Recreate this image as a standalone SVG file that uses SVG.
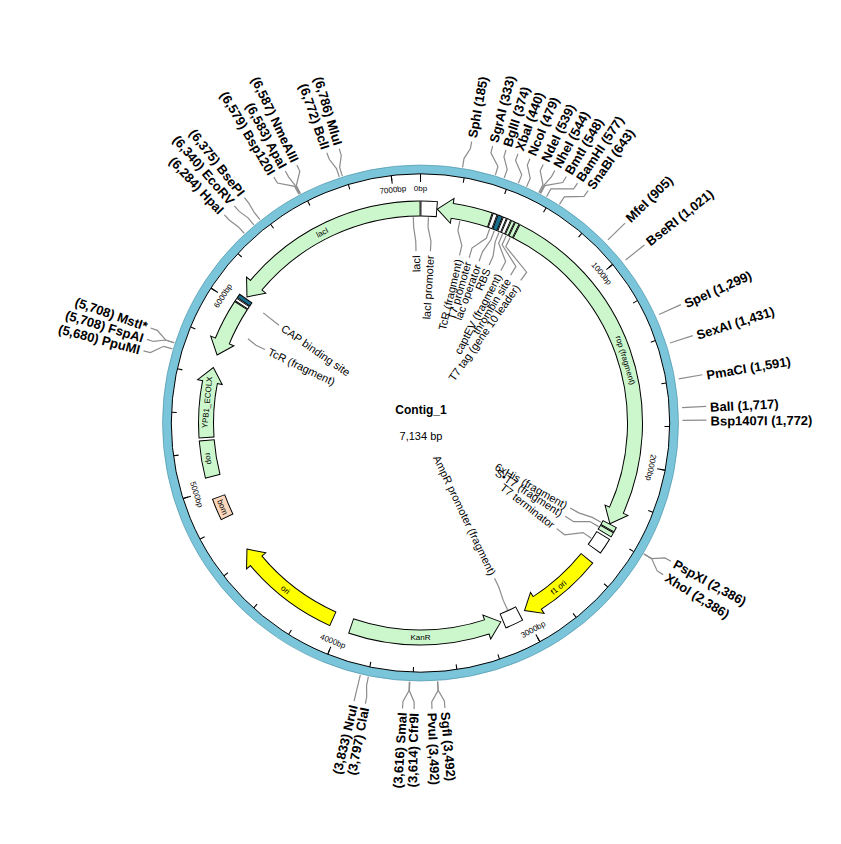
<svg xmlns="http://www.w3.org/2000/svg" xmlns:xlink="http://www.w3.org/1999/xlink" width="841" height="844" viewBox="0 0 841 844">
<style>
.o{fill:none;stroke:#000;stroke-width:16}
.f{fill:none;stroke-width:14}
.g{stroke:#ccf7cc}
.w{stroke:#fff}
.y{stroke:#ffff00}
.t{stroke:#1b6f8e}
.ld{fill:none;stroke:#8c8c8c;stroke-width:1.2}
.s{font-family:"Liberation Sans",Arial,sans-serif;font-size:13px;font-weight:bold;fill:#000}
.i{font-family:"Liberation Sans",Arial,sans-serif;font-size:11px;fill:#000}
.fl{font-family:"Liberation Sans",Arial,sans-serif;font-size:8px;fill:#000;text-anchor:middle}
.tk{font-family:"Liberation Sans",Arial,sans-serif;font-size:8px;fill:#000;text-anchor:middle}
</style>
<defs>
<polygon id="hd" points="0,-214.5 -14.1,-201.5 -15.8,-226.5" stroke="#000" stroke-width="1" stroke-linejoin="miter"/>
</defs>
<rect width="841" height="844" fill="#fff"/>
<g transform="translate(420.5,423)">
<g id="ring">
<circle r="253.5" fill="none" stroke="#7ac5da" stroke-width="9"/>
<circle r="249.2" fill="none" stroke="#000" stroke-width="1"/>
<circle r="258" fill="none" stroke="#4a8fa3" stroke-width="0.6"/>
<circle r="246.5" fill="none" stroke="#000" stroke-width="5" pathLength="360" stroke-dasharray="0.25 9.8425" transform="rotate(-90.12)"/>
<circle r="245" fill="none" stroke="#000" stroke-width="8" pathLength="360" stroke-dasharray="0.25 50.2126" transform="rotate(-90.12)"/>
<text class="tk" transform="rotate(0) translate(0,-235)" dy="0.35em">0bp</text>
<text class="tk" transform="rotate(50.46) translate(0,-235)" dy="0.35em">1000bp</text>
<text class="tk" transform="rotate(100.93) translate(0,-235)" dy="0.35em">2000bp</text>
<text class="tk" transform="rotate(151.39) translate(0,-235) rotate(180)" dy="0.35em">3000bp</text>
<text class="tk" transform="rotate(201.85) translate(0,-235) rotate(180)" dy="0.35em">4000bp</text>
<text class="tk" transform="rotate(252.31) translate(0,-235) rotate(180)" dy="0.35em">5000bp</text>
<text class="tk" transform="rotate(302.78) translate(0,-235)" dy="0.35em">6000bp</text>
<text class="tk" transform="rotate(353.24) translate(0,-235)" dy="0.35em">7000bp</text>
</g>

<g id="lacI-promoter"><circle r="214.5" class="o" pathLength="360" stroke-dasharray="4.5 360" transform="rotate(-90)"/><circle r="214.5" class="f w" pathLength="360" stroke-dasharray="4 360" transform="rotate(-89.75)"/></g>
<g id="TcR-top"><circle r="214.5" class="o" pathLength="360" stroke-dasharray="10.5 360" transform="rotate(-81.5)"/><use href="#hd" fill="#ccf7cc" transform="rotate(4.5) scale(-1 1)"/><circle r="214.5" class="f g" pathLength="360" stroke-dasharray="10.95 360" transform="rotate(-82.2)"/></g>
<g id="T7-promoter"><circle r="214.5" class="o" pathLength="360" stroke-dasharray="1.3 360" transform="rotate(-71)"/><circle r="214.5" class="f w" pathLength="360" stroke-dasharray="0.8 360" transform="rotate(-70.75)"/></g>
<g id="lac-operator"><circle r="214.5" class="o" pathLength="360" stroke-dasharray="1.5 360" transform="rotate(-69.7)"/><circle r="214.5" class="f t" pathLength="360" stroke-dasharray="1 360" transform="rotate(-69.45)"/></g>
<g id="RBS"><circle r="214.5" class="o" pathLength="360" stroke-dasharray="1.1 360" transform="rotate(-68.2)"/><circle r="214.5" class="f w" pathLength="360" stroke-dasharray="0.6 360" transform="rotate(-67.95)"/></g>
<g id="captEV"><circle r="214.5" class="o" pathLength="360" stroke-dasharray="1.2 360" transform="rotate(-67.1)"/><circle r="214.5" class="f w" pathLength="360" stroke-dasharray="0.7 360" transform="rotate(-66.85)"/></g>
<g id="thrombin"><circle r="214.5" class="o" pathLength="360" stroke-dasharray="1.1 360" transform="rotate(-65.9)"/><circle r="214.5" class="f g" pathLength="360" stroke-dasharray="0.6 360" transform="rotate(-65.65)"/></g>
<g id="T7-tag"><circle r="214.5" class="o" pathLength="360" stroke-dasharray="1.3 360" transform="rotate(-64.8)"/><circle r="214.5" class="f g" pathLength="360" stroke-dasharray="0.8 360" transform="rotate(-64.55)"/></g>
<g id="rop-fragment"><circle r="214.5" class="o" pathLength="360" stroke-dasharray="87.5 360" transform="rotate(-63.5)"/><use href="#hd" fill="#ccf7cc" transform="rotate(118)"/><circle r="214.5" class="f g" pathLength="360" stroke-dasharray="87.95 360" transform="rotate(-63.25)"/><text class="fl" transform="rotate(73) translate(0,-214.5)" dy="0.35em">rop (fragment)</text></g>
<g id="6xHis"><circle r="214.5" class="o" pathLength="360" stroke-dasharray="1.5 360" transform="rotate(28)"/><circle r="214.5" class="f g" pathLength="360" stroke-dasharray="1 360" transform="rotate(28.25)"/></g>
<g id="ST7"><circle r="214.5" class="o" pathLength="360" stroke-dasharray="1.5 360" transform="rotate(29.5)"/><circle r="214.5" class="f g" pathLength="360" stroke-dasharray="1 360" transform="rotate(29.75)"/></g>
<g id="T7-terminator"><circle r="214.5" class="o" pathLength="360" stroke-dasharray="4.5 360" transform="rotate(31.5)"/><circle r="214.5" class="f w" pathLength="360" stroke-dasharray="4 360" transform="rotate(31.75)"/></g>
<g id="f1-ori"><circle r="214.5" class="o" pathLength="360" stroke-dasharray="18 360" transform="rotate(39)"/><use href="#hd" fill="#ffff00" transform="rotate(151)"/><circle r="214.5" class="f y" pathLength="360" stroke-dasharray="18.45 360" transform="rotate(39.25)"/><text class="fl" transform="rotate(140) translate(0,-214.5) rotate(180)" dy="0.35em">f1 ori</text></g>
<g id="AmpR-promoter"><circle r="214.5" class="o" pathLength="360" stroke-dasharray="5 360" transform="rotate(62.5)"/><circle r="214.5" class="f w" pathLength="360" stroke-dasharray="4.5 360" transform="rotate(62.75)"/></g>
<g id="KanR"><circle r="214.5" class="o" pathLength="360" stroke-dasharray="37 360" transform="rotate(72)"/><use href="#hd" fill="#ccf7cc" transform="rotate(158) scale(-1 1)"/><circle r="214.5" class="f g" pathLength="360" stroke-dasharray="37.45 360" transform="rotate(71.3)"/><text class="fl" transform="rotate(180) translate(0,-214.5) rotate(180)" dy="0.35em">KanR</text></g>
<g id="ori"><circle r="214.5" class="o" pathLength="360" stroke-dasharray="26 360" transform="rotate(114)"/><use href="#hd" fill="#ffff00" transform="rotate(234)"/><circle r="214.5" class="f y" pathLength="360" stroke-dasharray="26.45 360" transform="rotate(114.25)"/><text class="fl" transform="rotate(219) translate(0,-214.5) rotate(180)" dy="0.35em">ori</text></g>
<g id="bom"><circle r="215" fill="none" stroke="#000" stroke-width="14" pathLength="360" stroke-dasharray="6 360" transform="rotate(154)"/><circle r="215" fill="none" stroke="#fbd8bd" stroke-width="12" pathLength="360" stroke-dasharray="5.5 360" transform="rotate(154.25)"/><text class="fl" transform="rotate(247) translate(0,-215) rotate(180)" dy="0.35em">bom</text></g>
<g id="rop"><circle r="214.5" class="o" pathLength="360" stroke-dasharray="10 360" transform="rotate(165.5)"/><circle r="214.5" class="f g" pathLength="360" stroke-dasharray="9.5 360" transform="rotate(165.75)"/><text class="fl" transform="rotate(260.5) translate(0,-214.5) rotate(180)" dy="0.35em">rop</text></g>
<g id="YPB1"><circle r="214.5" class="o" pathLength="360" stroke-dasharray="15 360" transform="rotate(176)"/><use href="#hd" fill="#ccf7cc" transform="rotate(285)"/><circle r="214.5" class="f g" pathLength="360" stroke-dasharray="15.45 360" transform="rotate(176.25)"/><text class="fl" transform="rotate(275.5) translate(0,-214.5)" dy="0.35em">YPB1_ECOLX</text></g>
<g id="TcR-left"><circle r="214.5" class="o" pathLength="360" stroke-dasharray="10.8 360" transform="rotate(202.5)"/><use href="#hd" fill="#ccf7cc" transform="rotate(288.5) scale(-1 1)"/><circle r="214.5" class="f g" pathLength="360" stroke-dasharray="11.25 360" transform="rotate(201.8)"/></g>
<g id="strip"><circle r="214.5" class="o" pathLength="360" stroke-dasharray="1 360" transform="rotate(213.3)"/><circle r="214.5" class="f w" pathLength="360" stroke-dasharray="0.5 360" transform="rotate(213.55)"/></g>
<g id="CAP"><circle r="214.5" class="o" pathLength="360" stroke-dasharray="1.3 360" transform="rotate(214.3)"/><circle r="214.5" class="f t" pathLength="360" stroke-dasharray="0.8 360" transform="rotate(214.55)"/></g>
<g id="lacI"><circle r="214.5" class="o" pathLength="360" stroke-dasharray="50 360" transform="rotate(220)"/><use href="#hd" fill="#ccf7cc" transform="rotate(306) scale(-1 1)"/><circle r="214.5" class="f g" pathLength="360" stroke-dasharray="50.45 360" transform="rotate(219.3)"/><text class="fl" transform="rotate(332.7) translate(0,-214.5)" dy="0.35em">lacI</text></g>

<g id="connectors">
<polyline class="ld" transform="rotate(-80.66)" points="259,0 268,0 279,4.7 286,4.8"/>
<polyline class="ld" transform="rotate(-73.2)" points="259,0 268,0 279,-10.7 286,-11"/>
<polyline class="ld" transform="rotate(-71.13)" points="259,0 268,0 279,-7.2 286,-7.4"/>
<polyline class="ld" transform="rotate(-67.8)" points="259,0 268,0 279,-11.2 286,-11.5"/>
<polyline class="ld" transform="rotate(-65.83)" points="259,0 268,0 279,-8.1 286,-8.4"/>
<polyline class="ld" transform="rotate(-62.8)" points="259,0 268,0 279,-8.8 286,-9"/>
<polyline class="ld" transform="rotate(-62.55)" points="259,0 268,0 279,2.7 286,2.8"/>
<polyline class="ld" transform="rotate(-62.35)" points="259,0 268,0 279,14.4 286,14.8"/>
<polyline class="ld" transform="rotate(-60.88)" points="259,0 268,0 279,19.9 286,20.4"/>
<polyline class="ld" transform="rotate(-57.55)" points="259,0 268,0 279,16.3 286,16.8"/>
<polyline class="ld" transform="rotate(-44.33)" points="262,0 286,0"/>
<polyline class="ld" transform="rotate(-38.48)" points="262,0 286,0"/>
<polyline class="ld" transform="rotate(-24.45)" points="262,0 286,0"/>
<polyline class="ld" transform="rotate(-17.79)" points="262,0 286,0"/>
<polyline class="ld" transform="rotate(-9.71)" points="262,0 286,0"/>
<polyline class="ld" transform="rotate(-3.35)" points="262,0 286,0"/>
<polyline class="ld" transform="rotate(-0.58)" points="262,0 286,0"/>
<polyline class="ld" transform="rotate(30.4)" points="259,0 268,0 279,-7.3 286,-7.5"/>
<polyline class="ld" transform="rotate(30.4)" points="259,0 268,0 279,7.8 286,8"/>
<polyline class="ld" transform="rotate(86.22)" points="259,0 268,0 279,-5.5 286,-5.6"/>
<polyline class="ld" transform="rotate(86.22)" points="259,0 268,0 279,7.2 286,7.4"/>
<polyline class="ld" transform="rotate(92.37)" points="259,0 268,0 279,-5.2 286,-5.4"/>
<polyline class="ld" transform="rotate(92.47)" points="259,0 268,0 279,5.5 286,5.7"/>
<polyline class="ld" transform="rotate(101.61)" points="259,0 268,0 279,-2.4 286,-2.5"/>
<polyline class="ld" transform="rotate(103.43)" points="259,0 286,0"/>
<polyline class="ld" transform="rotate(196.63)" points="259,0 268,0 279,-9.9 286,-10.2"/>
<polyline class="ld" transform="rotate(198.04)" points="259,0 268,0 279,-5.1 286,-5.2"/>
<polyline class="ld" transform="rotate(198.04)" points="259,0 268,0 279,6.6 286,6.8"/>
<polyline class="ld" transform="rotate(227.11)" points="259,0 268,0 279,-2 286,-2"/>
<polyline class="ld" transform="rotate(229.94)" points="259,0 268,0 279,-2.6 286,-2.7"/>
<polyline class="ld" transform="rotate(231.7)" points="259,0 268,0 279,1.5 286,1.5"/>
<polyline class="ld" transform="rotate(241.99)" points="259,0 268,0 279,-13.6 286,-14"/>
<polyline class="ld" transform="rotate(242.2)" points="259,0 268,0 279,-1.9 286,-2"/>
<polyline class="ld" transform="rotate(242.4)" points="259,0 268,0 279,9.7 286,10"/>
<polyline class="ld" transform="rotate(251.73)" points="259,0 268,0 279,-4 286,-4.2"/>
<polyline class="ld" transform="rotate(252.44)" points="259,0 268,0 279,5.2 286,5.3"/>
<!-- inner -->
<polyline class="ld" transform="rotate(-92)" points="206,0 196,0 182,1.6 172,1.5"/>
<polyline class="ld" transform="rotate(-87.8)" points="206,0 196,0 182,3.5 172,3.3"/>
<polyline class="ld" transform="rotate(-79)" points="206,0 196,0 182,6.7 172,6.3"/>
<polyline class="ld" transform="rotate(-70.4)" points="206,0 196,0 182,-10.2 172,-9.6"/>
<polyline class="ld" transform="rotate(-69)" points="206,0 196,0 182,-3.5 172,-3.3"/>
<polyline class="ld" transform="rotate(-67.6)" points="206,0 196,0 182,3.5 172,3.3"/>
<polyline class="ld" transform="rotate(-66.5)" points="206,0 196,0 182,13.7 172,12.9"/>
<polyline class="ld" transform="rotate(-65.4)" points="206,0 196,0 182,21.6 172,20.4"/>
<polyline class="ld" transform="rotate(-64.2)" points="206,0 196,0 182,29.9 172,28.2"/>
<polyline class="ld" transform="rotate(28.8)" points="206,0 196,0 182,2.5 172,2.4"/>
<polyline class="ld" transform="rotate(30.2)" points="206,0 196,0 182,8.3 172,7.8"/>
<polyline class="ld" transform="rotate(34)" points="206,0 196,0 182,12.1 172,11.4"/>
<polyline class="ld" transform="rotate(65)" points="206,0 196,0 182,-1.6 172,-1.5"/>
<polyline class="ld" transform="rotate(215)" points="192,0 172,-1"/>
<polyline class="ld" transform="rotate(206)" points="192,0 182,-2.2 172,-2.1"/>
</g>

<g id="site-labels">
<text class="s" transform="rotate(-79.7)" x="290" dy="0.35em">SphI (185)</text>
<text class="s" transform="rotate(-75.4)" x="290" dy="0.35em">SgrAI (333)</text>
<text class="s" transform="rotate(-72.6)" x="290" dy="0.35em">BglII (374)</text>
<text class="s" transform="rotate(-70.1)" x="290" dy="0.35em">XbaI (440)</text>
<text class="s" transform="rotate(-67.5)" x="290" dy="0.35em">NcoI (479)</text>
<text class="s" transform="rotate(-64.6)" x="290" dy="0.35em">NdeI (539)</text>
<text class="s" transform="rotate(-62)" x="290" dy="0.35em">NheI (544)</text>
<text class="s" transform="rotate(-59.4)" x="290" dy="0.35em">BmtI (548)</text>
<text class="s" transform="rotate(-56.8)" x="290" dy="0.35em">BamHI (577)</text>
<text class="s" transform="rotate(-54.2)" x="290" dy="0.35em">SnaBI (643)</text>
<text class="s" transform="rotate(-44.4)" x="290" dy="0.35em">MfeI (905)</text>
<text class="s" transform="rotate(-38.4)" x="290" dy="0.35em">BseRI (1,021)</text>
<text class="s" transform="rotate(-24.2)" x="290" dy="0.35em">SpeI (1,299)</text>
<text class="s" transform="rotate(-17.6)" x="290" dy="0.35em">SexAI (1,431)</text>
<text class="s" transform="rotate(-9.5)" x="290" dy="0.35em">PmaCI (1,591)</text>
<text class="s" transform="rotate(-3.1)" x="290" dy="0.35em">BalI (1,717)</text>
<text class="s" transform="rotate(-0.4)" x="290" dy="0.35em">Bsp1407I (1,772)</text>
<text class="s" transform="rotate(28.9)" x="290" dy="0.35em">PspXI (2,386)</text>
<text class="s" transform="rotate(32)" x="290" dy="0.35em">XhoI (2,386)</text>
<text class="s" transform="rotate(85.1)" x="290" dy="0.35em">SgfI (3,492)</text>
<text class="s" transform="rotate(87.7)" x="290" dy="0.35em">PvuI (3,492)</text>
<text class="s" transform="rotate(271.3)" x="-290" dy="0.35em" text-anchor="end">(3,614) Cfr9I</text>
<text class="s" transform="rotate(273.6)" x="-290" dy="0.35em" text-anchor="end">(3,616) SmaI</text>
<text class="s" transform="rotate(281.1)" x="-290" dy="0.35em" text-anchor="end">(3,797) ClaI</text>
<text class="s" transform="rotate(283.4)" x="-290" dy="0.35em" text-anchor="end">(3,833) NruI</text>
<text class="s" transform="rotate(14.6)" x="-290" dy="0.35em" text-anchor="end">(5,680) PpuMI</text>
<text class="s" transform="rotate(17)" x="-290" dy="0.35em" text-anchor="end">(5,708) FspAI</text>
<text class="s" transform="rotate(19.4)" x="-290" dy="0.35em" text-anchor="end">(5,708) MstI*</text>
<text class="s" transform="rotate(46.7)" x="-290" dy="0.35em" text-anchor="end">(6,284) HpaI</text>
<text class="s" transform="rotate(49.4)" x="-290" dy="0.35em" text-anchor="end">(6,340) EcoRV</text>
<text class="s" transform="rotate(52)" x="-290" dy="0.35em" text-anchor="end">(6,375) BsePI</text>
<text class="s" transform="rotate(59.2)" x="-290" dy="0.35em" text-anchor="end">(6,579) Bsp120I</text>
<text class="s" transform="rotate(61.8)" x="-290" dy="0.35em" text-anchor="end">(6,583) ApaI</text>
<text class="s" transform="rotate(64.4)" x="-290" dy="0.35em" text-anchor="end">(6,587) NmeAIII</text>
<text class="s" transform="rotate(70.9)" x="-290" dy="0.35em" text-anchor="end">(6,772) BclI</text>
<text class="s" transform="rotate(73.5)" x="-290" dy="0.35em" text-anchor="end">(6,786) MluI</text>
</g>

<g id="feature-labels">
<text class="i" transform="rotate(-91.5)" x="168" dy="0.35em" text-anchor="end">lacI</text>
<text class="i" transform="rotate(-86.7)" x="168" dy="0.35em" text-anchor="end">lacI promoter</text>
<text class="i" transform="rotate(-76.9)" x="168" dy="0.35em" text-anchor="end">TcR (fragment)</text>
<text class="i" transform="rotate(-73.6)" x="168" dy="0.35em" text-anchor="end">T7 promoter</text>
<text class="i" transform="rotate(-70.1)" x="168" dy="0.35em" text-anchor="end">lac operator</text>
<text class="i" transform="rotate(-66.5)" x="168" dy="0.35em" text-anchor="end">RBS</text>
<text class="i" transform="rotate(-62.2)" x="168" dy="0.35em" text-anchor="end">captEV (fragment)</text>
<text class="i" transform="rotate(-58.6)" x="168" dy="0.35em" text-anchor="end">thrombin site</text>
<text class="i" transform="rotate(-54.8)" x="168" dy="0.35em" text-anchor="end">T7 tag (gene 10 leader)</text>
<text class="i" transform="rotate(29.6)" x="168" dy="0.35em" text-anchor="end">6xHis (fragment)</text>
<text class="i" transform="rotate(32.8)" x="168" dy="0.35em" text-anchor="end">S•T7 (fragment)</text>
<text class="i" transform="rotate(37.8)" x="168" dy="0.35em" text-anchor="end">T7 terminator</text>
<text class="i" transform="rotate(64.5)" x="168" dy="0.35em" text-anchor="end">AmpR promoter (fragment)</text>
<text class="i" transform="rotate(34.7)" x="-168" dy="0.35em">CAP binding site</text>
<text class="i" transform="rotate(25.3)" x="-168" dy="0.35em">TcR (fragment)</text>
</g>
</g>
<g id="title">
<text x="421" y="414" font-family="Liberation Sans,Arial,sans-serif" font-size="12" font-weight="bold" text-anchor="middle">Contig_1</text>
<text x="421" y="440" font-family="Liberation Sans,Arial,sans-serif" font-size="11" text-anchor="middle">7,134 bp</text>
</g>
</svg>
